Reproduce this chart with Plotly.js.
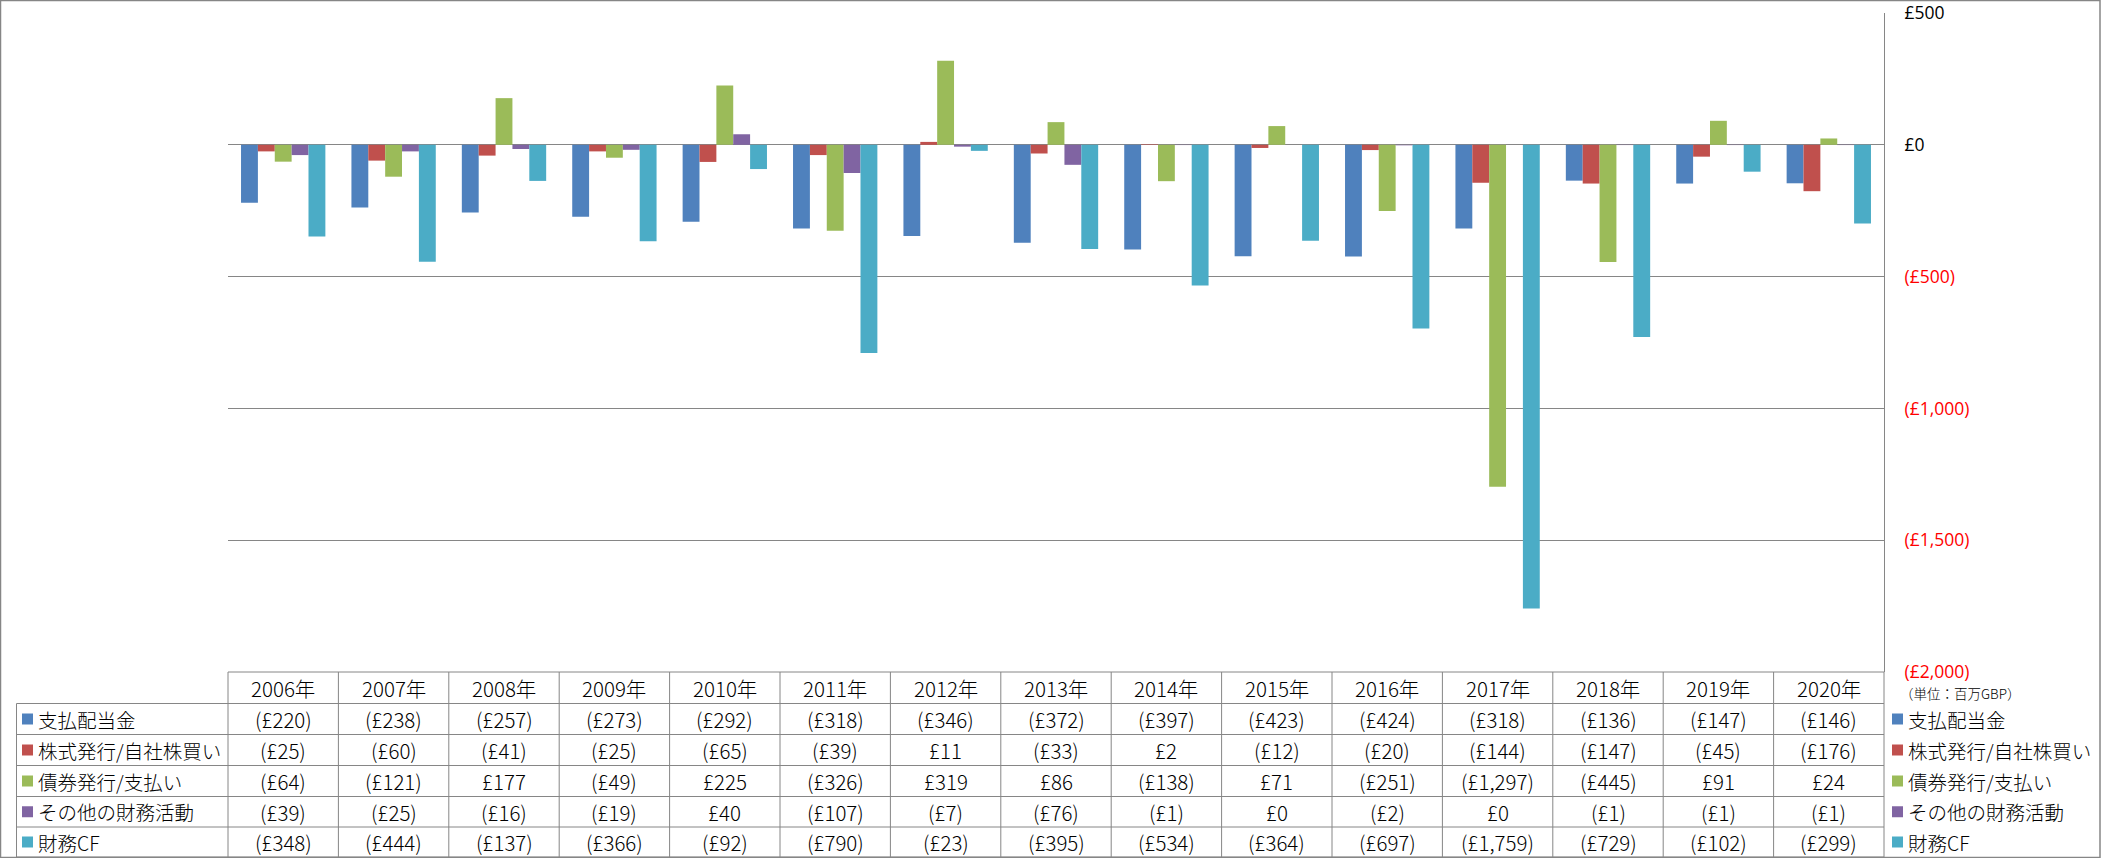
<!DOCTYPE html>
<html>
<head>
<meta charset="utf-8">
<script src="https://cdn.plot.ly/plotly-3.0.1.min.js"></script>
<style>
html,body{margin:0;padding:0;background:#fff;}
#chart{width:2101px;height:858px;}
</style>
</head>
<body>
<div id="chart"></div>
<script>
// ---- data ----
const years = ["2006年","2007年","2008年","2009年","2010年","2011年","2012年","2013年","2014年","2015年","2016年","2017年","2018年","2019年","2020年"];
const seriesNames = ["支払配当金","株式発行/自社株買い","債券発行/支払い","その他の財務活動","財務CF"];
const dividendsPaid   = [-220,-238,-257,-273,-292,-318,-346,-372,-397,-423,-424,-318,-136,-147,-146];
const stockIssueBuyback = [-25,-60,-41,-25,-65,-39,11,-33,2,-12,-20,-144,-147,-45,-176];
const debtIssuePayment  = [-64,-121,177,-49,225,-326,319,86,-138,71,-251,-1297,-445,91,24];
const otherFinancing    = [-39,-25,-16,-19,40,-107,-7,-76,-1,0,-2,0,-1,-1,-1];
const financingCF       = [-348,-444,-137,-366,-92,-790,-23,-395,-534,-364,-697,-1759,-729,-102,-299];
const tickValues = [500,0,-500,-1000,-1500,-2000];
const unitLabel = "（単位：百万GBP）";

// ---- styles ----
const seriesValues = [dividendsPaid, stockIssueBuyback, debtIssuePayment, otherFinancing, financingCF];
const colors = ["#4F81BD","#C0504D","#9BBB59","#8064A2","#4BACC6"];
const GRID = "#868686";
const W = 2101, H = 858;
const L = 228, R = 1884, T = 13, B = 672;
const xp = px => (px - L) / (R - L);
const yp = py => (B - py) / (B - T);
const rowEdges = [672, 703.5, 734.5, 765.5, 796.5, 827, 857];
const labelLeft = 16.5;
const numFont = "'Liberation Sans Narrow','Arial Narrow','Noto Sans CJK JP',sans-serif";
const jpFont = "'Noto Sans CJK JP','Noto Sans',sans-serif";

function fmt(v){
  const s = "£" + Math.abs(v).toLocaleString("en-US");
  return v < 0 ? "(" + s + ")" : s;
}
const tickText = tickValues.map(v => v < 0 ? '<span style="color:#FF0000">' + fmt(v) + '</span>' : fmt(v));

const traces = seriesValues.map((vals, i) => ({
  type: "bar",
  name: seriesNames[i],
  x: years,
  y: vals,
  marker: {color: colors[i], line: {width: 0}},
  hoverinfo: "skip"
}));

const shapes = [];
const annotations = [];
const line = (x0,y0,x1,y1) => shapes.push({type:"line", xref:"paper", yref:"paper",
  x0:xp(x0), y0:yp(y0), x1:xp(x1), y1:yp(y1), line:{color:GRID, width:1}});

// outer chart border
shapes.push({type:"rect", xref:"paper", yref:"paper", x0:xp(0.5), x1:xp(2100), y0:yp(857.5), y1:yp(0.5),
  line:{color:GRID, width:1.5}, fillcolor:"rgba(0,0,0,0)"});

// table horizontal lines
line(L, rowEdges[0], R, rowEdges[0]);
for (let r = 1; r < rowEdges.length; r++) line(labelLeft, rowEdges[r], R, rowEdges[r]);
// table vertical lines
const colW = (R - L) / years.length;
for (let c = 0; c <= years.length; c++) line(L + c*colW, rowEdges[0], L + c*colW, rowEdges[rowEdges.length-1]);
line(labelLeft, rowEdges[1], labelLeft, rowEdges[rowEdges.length-1]);

const cellFont = {family:numFont, size:20.5, color:"#000", weight:300};
const labelFont = {family:jpFont, size:19.5, color:"#000", weight:300};

// header row: years
years.forEach((y) => {
  annotations.push({xref:"x", yref:"paper", x:y, y:yp((rowEdges[0]+rowEdges[1])/2), text:y,
    showarrow:false, xanchor:"center", yanchor:"middle", font:cellFont});
});
// data rows
seriesValues.forEach((vals, i) => {
  const cy = (rowEdges[i+1] + rowEdges[i+2]) / 2;
  vals.forEach((v, j) => {
    annotations.push({xref:"x", yref:"paper", x:years[j], y:yp(cy), text:fmt(v),
      showarrow:false, xanchor:"center", yanchor:"middle", font:cellFont});
  });
  // row label with key
  shapes.push({type:"rect", xref:"paper", yref:"paper", x0:xp(22), x1:xp(33), y0:yp(cy+5.5), y1:yp(cy-5.5),
    line:{width:0}, fillcolor:colors[i]});
  annotations.push({xref:"paper", yref:"paper", x:xp(36), y:yp(cy), text:seriesNames[i],
    showarrow:false, xanchor:"left", yanchor:"middle", font:labelFont});
  // right-side legend
  shapes.push({type:"rect", xref:"paper", yref:"paper", x0:xp(1892), x1:xp(1903), y0:yp(cy+5.5), y1:yp(cy-5.5),
    line:{width:0}, fillcolor:colors[i]});
  annotations.push({xref:"paper", yref:"paper", x:xp(1906), y:yp(cy), text:seriesNames[i],
    showarrow:false, xanchor:"left", yanchor:"middle", font:labelFont});
});
// unit label
annotations.push({xref:"paper", yref:"paper", x:xp(1898), y:yp(693), text:unitLabel,
  showarrow:false, xanchor:"left", yanchor:"middle", font:{family:jpFont, size:13.5, color:"#000", weight:300}});

const layout = {
  width: W, height: H,
  margin: {l:L, r:W-R, t:T, b:H-B, pad:0},
  paper_bgcolor:"#fff", plot_bgcolor:"#fff",
  barmode:"group", bargap:0.236, bargroupgap:0,
  showlegend:false,
  xaxis:{type:"category", range:[-0.5, years.length-0.5], showgrid:false, showticklabels:false,
    showline:false, zeroline:false, ticks:"", fixedrange:true},
  yaxis:{side:"right", range:[-2000,500], tickmode:"array", tickvals:tickValues, ticktext:tickText,
    showgrid:true, gridcolor:GRID, gridwidth:1, zeroline:true, zerolinecolor:GRID, zerolinewidth:1,
    showline:true, linecolor:GRID, linewidth:1, ticks:"", ticklabelstandoff:16,
    tickfont:{family:"'Open Sans',sans-serif", size:17.5, color:"#000"}, fixedrange:true},
  shapes: shapes,
  annotations: annotations
};

Plotly.newPlot("chart", traces, layout, {displayModeBar:false, staticPlot:true});
</script>
</body>
</html>
